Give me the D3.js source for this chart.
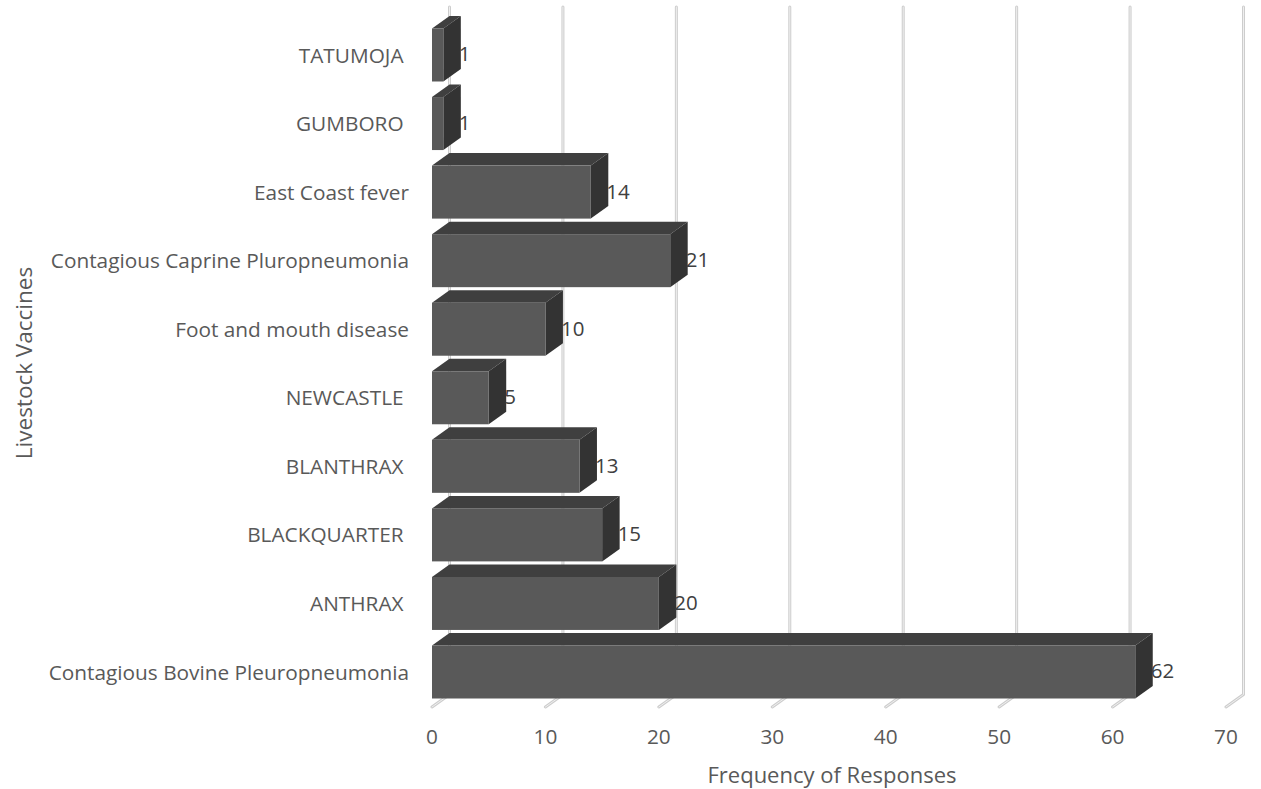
<!DOCTYPE html>
<html>
<head>
<meta charset="utf-8">
<script src="https://cdn.jsdelivr.net/npm/d3@7"></script>
<style>
  html, body { margin: 0; padding: 0; background: #fff; }
  svg text { font-family: "Open Sans", "Noto Sans", sans-serif; }
</style>
</head>
<body>
<svg id="chart" width="1261" height="789"></svg>
<script>
// Vaccines listed top to bottom, with the number of responses for each
const vaccines = [
  "TATUMOJA ",
  "GUMBORO ",
  "East Coast fever",
  "Contagious Caprine Pluropneumonia",
  "Foot and mouth disease",
  "NEWCASTLE ",
  "BLANTHRAX ",
  "BLACKQUARTER ",
  "ANTHRAX ",
  "Contagious Bovine Pleuropneumonia"
];
const responses = [1, 1, 14, 21, 10, 5, 13, 15, 20, 62];
const xTicks = [0, 10, 20, 30, 40, 50, 60, 70];

const svg = d3.select("#chart");

// Front plane of the 3D plot, and the depth offset toward the back wall
const depthX = 17.5, depthY = -12.5;
const x = d3.scaleLinear().domain([0, 70]).range([432, 1226]);
const y = d3.scaleBand().domain(vaccines).range([20, 707])
  .paddingInner(0.227).paddingOuter(0.124);

const backTop = 20 + depthY - 0.5;
const backBottom = 707 + depthY;

// Gridlines: vertical on the back wall, diagonal across the floor
const grid = svg.append("g");
xTicks.forEach(t => {
  const path = `M${x(t) + depthX},${backTop} L${x(t) + depthX},${backBottom} L${x(t)},707`;
  grid.append("path").attr("d", path).attr("fill", "none")
    .attr("stroke", "#cdcdcd").attr("stroke-width", 3)
    .attr("stroke-linecap", "round").attr("stroke-linejoin", "round");
  grid.append("path").attr("d", path).attr("fill", "none")
    .attr("stroke", "#efefef").attr("stroke-width", 1)
    .attr("stroke-linecap", "round").attr("stroke-linejoin", "round");
});

// 3D bars: top face, side face, front face
const bars = svg.append("g").selectAll("g").data(vaccines).join("g");
bars.each(function(name, i) {
  const g = d3.select(this);
  const x0 = x(0), x1 = x(responses[i]);
  const y0 = y(name), y1 = y(name) + y.bandwidth();
  g.append("path")
    .attr("d", `M${x0},${y0} L${x0 + depthX},${y0 + depthY} L${x1 + depthX},${y0 + depthY} L${x1},${y0} Z`)
    .attr("fill", "#3f3f3f");
  g.append("path")
    .attr("d", `M${x1},${y0} L${x1 + depthX},${y0 + depthY} L${x1 + depthX},${y1 + depthY} L${x1},${y1} Z`)
    .attr("fill", "#333333");
  g.append("rect")
    .attr("x", x0).attr("y", y0)
    .attr("width", x1 - x0).attr("height", y1 - y0)
    .attr("fill", "#595959");
  // value label just right of the side face
  g.append("text")
    .attr("x", x1 + depthX - 2)
    .attr("y", (y0 + y1) / 2 + 1)
    .attr("dominant-baseline", "middle")
    .attr("font-size", 20.5)
    .attr("fill", "#404040")
    .text(responses[i]);
});

// Category labels
svg.append("g").selectAll("text").data(vaccines).join("text")
  .attr("x", 409)
  .attr("y", d => y(d) + y.bandwidth() / 2 + 2)
  .attr("text-anchor", "end")
  .attr("dominant-baseline", "middle")
  .attr("font-size", 20.8)
  .attr("fill", "#595959")
  .text(d => d.trimEnd() + (d.endsWith(" ") ? "\u00a0" : ""));

// Value axis tick labels
svg.append("g").selectAll("text").data(xTicks).join("text")
  .attr("x", d => x(d))
  .attr("y", 738)
  .attr("text-anchor", "middle")
  .attr("dominant-baseline", "middle")
  .attr("font-size", 20.8)
  .attr("fill", "#595959")
  .text(d => d);

// Axis titles
svg.append("text")
  .attr("x", 832).attr("y", 777)
  .attr("text-anchor", "middle")
  .attr("dominant-baseline", "middle")
  .attr("font-size", 22)
  .attr("fill", "#595959")
  .text("Frequency of Responses");

svg.append("text")
  .attr("transform", "translate(26,363) rotate(-90)")
  .attr("text-anchor", "middle")
  .attr("dominant-baseline", "middle")
  .attr("font-size", 22.5)
  .attr("fill", "#595959")
  .text("Livestock Vaccines");
</script>
</body>
</html>
